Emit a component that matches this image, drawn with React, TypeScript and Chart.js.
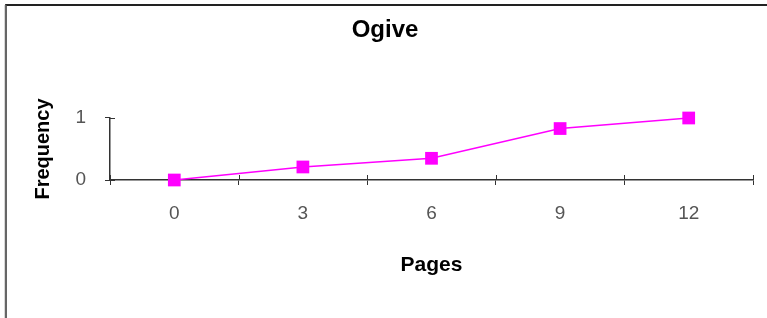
import React, { useEffect, useRef } from 'react';
import { Chart, registerables } from 'chart.js';

Chart.register(...registerables);

const categories = ['0', '3', '6', '9', '12'];
const frequency = [0, 0.21, 0.35, 0.83, 1];
const yTicks = [0, 1];

const chartTitle = 'Ogive';
const xTitle = 'Pages';
const yTitle = 'Frequency';

const AXIS_COLOR = '#333333';
const LINE_COLOR = '#FF00FF';
const FONT = "'Liberation Sans', Arial, sans-serif";

const frameAndTicks = {
  id: 'frameAndTicks',
  beforeDatasetsDraw(chart: any) {
    const { ctx, scales } = chart;
    const x = scales.x;
    const y = scales.y;
    ctx.save();
    ctx.strokeStyle = AXIS_COLOR;
    ctx.lineWidth = 1;
    const n = x.ticks.length;
    for (let i = 0; i <= n; i++) {
      const px = Math.round(x.getPixelForValue(i - 0.5)) + 0.5;
      ctx.beginPath();
      ctx.moveTo(px, y.bottom);
      ctx.lineTo(px, y.bottom - 5);
      ctx.stroke();
    }
    y.ticks.forEach((t: any) => {
      const py = Math.round(y.getPixelForValue(t.value)) + 0.5;
      ctx.beginPath();
      ctx.moveTo(x.left, py);
      ctx.lineTo(x.left + 5, py);
      ctx.stroke();
    });
    ctx.restore();
  },
  afterDraw(chart: any) {
    const ctx = chart.ctx;
    const w = chart.canvas.width;
    const h = chart.canvas.height;
    ctx.save();
    ctx.strokeStyle = '#222';
    ctx.lineWidth = 2;
    ctx.beginPath();
    ctx.moveTo(5, 5);
    ctx.lineTo(w, 5);
    ctx.stroke();
    ctx.strokeStyle = '#666';
    ctx.lineWidth = 1.5;
    ctx.beginPath();
    ctx.moveTo(5.5, 5);
    ctx.lineTo(5.5, h);
    ctx.stroke();
    ctx.restore();
  },
};

export default function App() {
  const ref = useRef<HTMLCanvasElement>(null);

  useEffect(() => {
    if (!ref.current) return;
    const chart = new Chart(ref.current, {
      type: 'line',
      data: {
        labels: categories,
        datasets: [
          {
            data: frequency,
            borderColor: LINE_COLOR,
            backgroundColor: LINE_COLOR,
            borderWidth: 1.5,
            pointStyle: 'rect',
            pointRadius: 9,
            pointBorderWidth: 0,
            pointBackgroundColor: LINE_COLOR,
            tension: 0,
            clip: false,
          },
        ],
      },
      options: {
        responsive: false,
        animation: false,
        layout: { padding: { left: 3, right: 0, top: 0, bottom: 0 } },
        plugins: {
          legend: { display: false },
          tooltip: { enabled: false },
          title: {
            display: true,
            text: chartTitle,
            color: '#000',
            font: { family: FONT, size: 24, weight: 'bold' },
            padding: { top: 16.1, bottom: 73.1 },
          },
        },
        scales: {
          x: {
            type: 'category',
            offset: true,
            grid: {
              offset: true,
              drawOnChartArea: false,
              tickLength: 5,
              color: AXIS_COLOR,
              lineWidth: 1,
            },
            border: { color: AXIS_COLOR, width: 1.5 },
            ticks: {
              padding: 17,
              color: '#555',
              font: { family: FONT, size: 19 },
              maxRotation: 0,
            },
            title: {
              display: true,
              text: xTitle,
              color: '#000',
              font: { family: FONT, size: 21, weight: 'bold' },
              padding: { top: 0, bottom: 40.4 },
            },
            afterFit: (s: any) => {
              s.height = 138;
              s.paddingRight = 14;
            },
          },
          y: {
            min: 0,
            max: 1,
            afterBuildTicks: (s: any) => {
              s.ticks = yTicks.map((v) => ({ value: v }));
            },
            grid: {
              drawOnChartArea: false,
              tickLength: 5,
              color: AXIS_COLOR,
              lineWidth: 1,
            },
            border: { color: AXIS_COLOR, width: 1.5 },
            ticks: {
              padding: 19,
              color: '#555',
              font: { family: FONT, size: 19 },
            },
            title: {
              display: true,
              text: yTitle,
              color: '#000',
              font: { family: FONT, size: 20, weight: 'bold' },
              padding: { top: 28.5, bottom: 0 },
            },
            afterFit: (s: any) => {
              s.width = 107;
            },
          },
        },
      },
      plugins: [frameAndTicks],
    });
    return () => chart.destroy();
  }, []);

  return (
    <div style={{ position: 'fixed', left: 0, top: 0, width: 767, height: 318, background: '#fff' }}>
      <canvas ref={ref} width={767} height={318} style={{ display: 'block' }} />
      <div
        style={{
          position: 'absolute',
          left: 5,
          top: 4,
          width: 762,
          height: 314,
          boxSizing: 'border-box',
          borderTop: '2px solid #222',
          borderLeft: '2px solid #666',
          pointerEvents: 'none',
        }}
      />
    </div>
  );
}
